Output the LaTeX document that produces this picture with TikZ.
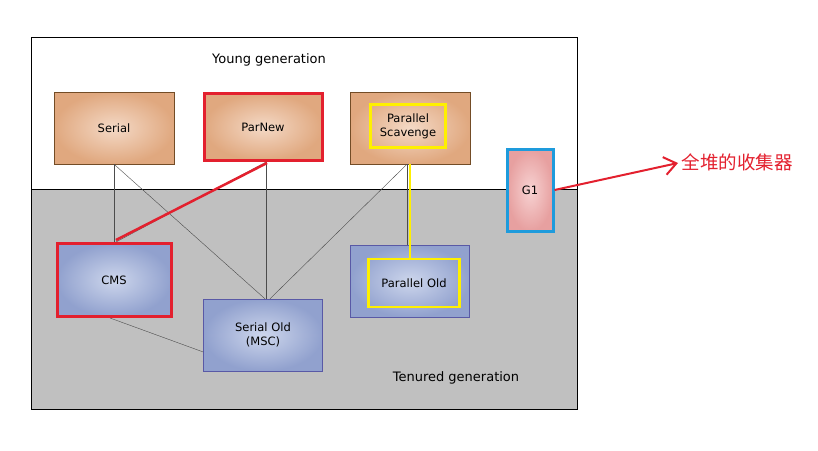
\documentclass[tikz,border=0pt]{standalone}
\usepackage{fontspec}
\setmainfont{DejaVu Sans}
\newfontfamily\cjk{Noto Sans CJK SC}
\usetikzlibrary{arrows.meta}
\definecolor{youngin}{HTML}{F4D9C6}
\definecolor{youngout}{HTML}{E0A87F}
\definecolor{oldin}{HTML}{CDD6EC}
\definecolor{oldout}{HTML}{91A1CE}
\definecolor{gin}{HTML}{F7D2D2}
\definecolor{gout}{HTML}{E7A0A0}
\definecolor{tenured}{HTML}{C0C0C0}
\definecolor{hlred}{HTML}{E3202E}
\definecolor{hlyellow}{HTML}{FFF000}
\definecolor{hlblue}{HTML}{1E9BDC}

\begin{document}
\begin{tikzpicture}[x=1pt, y=-1pt, font=\fontsize{11.5}{14}\selectfont,
  young/.style={draw=brown!60!black, thin, inner color=youngin, outer color=youngout,
    minimum width=120pt, minimum height=72pt, align=center},
  old/.style={draw=blue!30!gray, thin, inner color=oldin, outer color=oldout,
    minimum width=119pt, minimum height=72pt, align=center},
  mark_red/.style={draw=hlred, line width=3pt},
  mark_yellow/.style={draw=hlyellow, line width=2.5pt},
  edge_style/.style={draw=black!70, thin}]
  \useasboundingbox (0,0) rectangle (818,450);
  % heap
  \fill[white] (31,37) rectangle (577,189);
  \fill[tenured] (31,189) rectangle (577,409);
  \draw[thin] (31,37) rectangle (577,409);
  \draw[thin] (31,189) -- (577,189);
  \node (younglabel) at (269,60) {\fontsize{13}{15}\selectfont Young generation};
  \node (tenuredlabel) at (456,378) {\fontsize{13}{15}\selectfont Tenured generation};
  % young collectors
  \node[young] (serial) at (114,128) {Serial};
  \node[young, mark_red, minimum width=118pt, minimum height=67pt] (parnew) at (263,127) {ParNew};
  \node[young] (pscav) at (410,128) {};
  \node[mark_yellow, minimum width=75pt, minimum height=43pt, align=center] (pscavtext) at (408,126) {Parallel\\Scavenge};
  % old collectors
  \node[old, mark_red, minimum width=114pt, minimum height=73pt] (cms) at (114,280) {CMS};
  \node[old] (serialold) at (263,335) {Serial Old\\(MSC)};
  \node[old] (parold) at (410,281) {};
  \node[mark_yellow, minimum width=91pt, minimum height=48pt] (paroldtext) at (414,283) {Parallel Old};
  % whole heap
  \node[draw=hlblue, line width=3pt, inner color=gin, outer color=gout,
    minimum width=46pt, minimum height=82pt] (gone) at (530,190) {G1};
  % edges
  \draw[edge_style] (serial.south) -- (cms.north);
  \draw[edge_style] (serial.south) -- ([xshift=2pt]serialold.north);
  \draw[edge_style] ([xshift=3pt]parnew.south) -- ([xshift=3pt]serialold.north);
  \draw[edge_style] ([xshift=3pt]parnew.south) -- ([xshift=2pt]cms.north);
  \draw[edge_style] ([xshift=-3pt]pscav.south) -- ([xshift=7pt]serialold.north);
  \draw[edge_style] ([xshift=-3pt]pscav.south) -- ([xshift=-3pt]parold.north);
  \draw[edge_style] ([xshift=-4pt]cms.south) -- ([yshift=-17pt]serialold.west);
  \draw[hlred, line width=2.5pt] ([xshift=4pt,yshift=-1pt]parnew.south) -- ([xshift=2pt,yshift=2pt]cms.north);
  \draw[hlyellow, line width=2.5pt] (pscav.south) -- ([xshift=-4pt]paroldtext.north);
  % note
  \coordinate (notetip) at (678,163);
  \node[anchor=west, text=hlred, font=\cjk\fontsize{18.5}{22}\selectfont] (note) at (678,162) {全堆的收集器};
  \draw[hlred, line width=2pt, -{Straight Barb[length=12pt, width=18pt, line width=2pt]}] (gone.east) -- (notetip);
\end{tikzpicture}
\end{document}
